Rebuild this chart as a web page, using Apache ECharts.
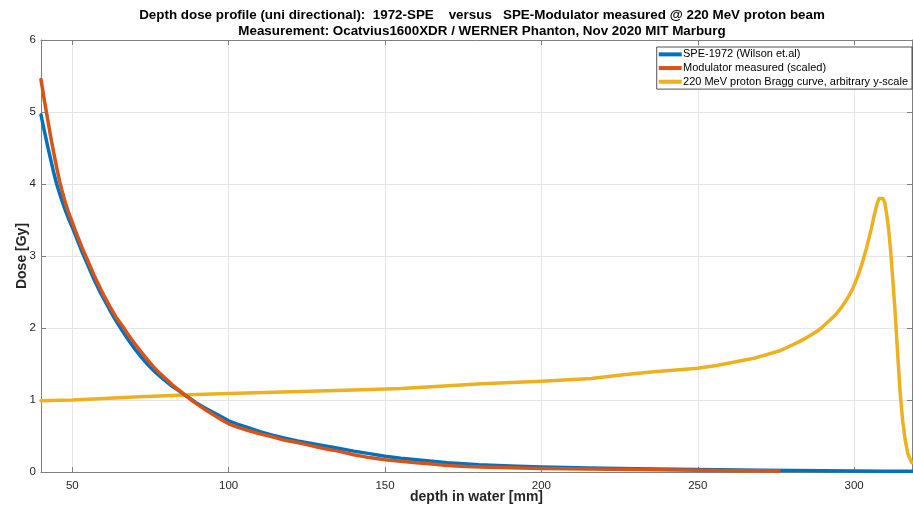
<!DOCTYPE html>
<html>
<head>
<meta charset="utf-8">
<script src="https://cdn.jsdelivr.net/npm/echarts@6/dist/echarts.min.js"></script>
<style>html,body{margin:0;padding:0;background:#fff}#c{width:913px;height:509px}</style>
</head>
<body>
<div id="c"></div>
<script>
const titleLines = ["Depth dose profile (uni directional):  1972-SPE    versus   SPE-Modulator measured @ 220 MeV proton beam",
  "Measurement: Ocatvius1600XDR / WERNER Phanton, Nov 2020 MIT Marburg"];
const seriesNames = ["SPE-1972 (Wilson et.al)", "Modulator measured (scaled)", "220 MeV proton Bragg curve, arbitrary y-scale"];

const speDepth = [40,41,42,43,44,45,46,47,48,49,50,51,52,53,54,55,56,57,58,59,60,62,64,66,68,70,72,74,76,78,80,82,84,86,88,90,92,95,98,100,103,106,110,114,118,122,126,130,135,140,145,150,155,160,165,170,175,180,190,200,215,230,250,270,290,310,318.5];
const speDose  = [4.96,4.75,4.55,4.36,4.17,4.00,3.86,3.73,3.61,3.50,3.40,3.29,3.18,3.07,2.97,2.87,2.77,2.67,2.58,2.49,2.41,2.25,2.10,1.96,1.83,1.71,1.60,1.50,1.41,1.33,1.26,1.19,1.13,1.07,1.01,0.95,0.90,0.83,0.76,0.71,0.66,0.62,0.56,0.51,0.47,0.43,0.40,0.37,0.33,0.29,0.255,0.22,0.19,0.17,0.15,0.13,0.115,0.10,0.085,0.07,0.055,0.045,0.035,0.025,0.018,0.012,0.010];

const modDepth = [40,41,42,43,44,45,46,47,48,49,50,51,52,53,54,55,56,57,58,59,60,62,64,66,68,70,72,74,76,78,80,82,84,86,88,90,92,95,98,100,103,106,110,114,118,122,126,130,135,140,145,150,155,160,165,170,176,183,190,200,215,229,250,265,276];
const modDose  = [5.45,5.18,4.93,4.68,4.45,4.23,4.03,3.86,3.71,3.58,3.47,3.35,3.24,3.13,3.03,2.93,2.83,2.73,2.64,2.55,2.46,2.30,2.15,2.03,1.90,1.78,1.67,1.56,1.46,1.37,1.29,1.21,1.14,1.07,1.00,0.94,0.88,0.80,0.72,0.67,0.62,0.58,0.53,0.49,0.44,0.41,0.37,0.33,0.29,0.24,0.20,0.17,0.15,0.13,0.11,0.09,0.075,0.065,0.058,0.05,0.04,0.033,0.023,0.018,0.015];

const braggDepth = [40,50,60,71.6,80,90,100,120,140,155,165,181,200,216,224,235,250,256,261,265,268,272,276,279,282,285,288,290,292,294,296,298,299.5,301,302.5,304,305.5,306.5,307.3,308,308.6,309.2,309.8,310.4,311,311.7,312.4,313.1,313.9,314.7,315.5,316.3,317.2,318.4];
const braggDose  = [0.99,1.00,1.02,1.045,1.06,1.075,1.09,1.115,1.14,1.16,1.185,1.225,1.26,1.30,1.34,1.39,1.44,1.48,1.52,1.555,1.58,1.63,1.68,1.74,1.80,1.87,1.95,2.02,2.10,2.18,2.29,2.42,2.54,2.70,2.89,3.12,3.38,3.58,3.72,3.80,3.82,3.80,3.74,3.58,3.38,3.05,2.65,2.22,1.65,1.11,0.72,0.45,0.25,0.13];

const xTickValues = [50,100,150,200,250,300];

const zip = (a,b) => a.map((v,i) => [v, b[i]]);
const FONT = "Liberation Sans";
const AX = '#7f7f7f', TXT = '#262626';
const chart = echarts.init(document.getElementById('c'), null, {renderer:'canvas'});
const xBase = {
  type:'value', min:40, max:318.5,
  axisLine:{show:true, onZero:false, lineStyle:{color:AX, width:1}},
  axisTick:{show:true, inside:true, length:5, lineStyle:{color:AX}},
};
const yBase = {
  type:'value', min:0, max:6, interval:1,
  axisLine:{show:true, onZero:false, lineStyle:{color:AX, width:1}},
  axisTick:{show:true, inside:true, length:5, lineStyle:{color:AX}},
};
chart.setOption({
  animation:false,
  backgroundColor:'#fff',
  title:{
    text: titleLines.join('\n'),
    left: 477, textAlign:'center', top: 2,
    textStyle:{fontFamily:FONT, fontSize:13.4, fontWeight:'bold', color:'#000', lineHeight:16.5}
  },
  legend:{
    orient:'vertical', right:1, top:47,
    data: seriesNames,
    icon:'rect', itemWidth:23, itemHeight:4, itemGap:0,
    padding:[0.5,4,0.5,2],
    borderColor:'#262626', borderWidth:0.8, backgroundColor:'#fff',
    textStyle:{fontFamily:FONT, fontSize:11, color:'#000', lineHeight:13.7, padding:[0,0,0,-3.7]}
  },
  grid:{left:41, right:1, top:40, bottom:37, containLabel:false, outerBoundsMode:'none'},
  xAxis:[
    Object.assign({}, xBase, {
      position:'bottom',
      name:'depth in water [mm]', nameLocation:'middle', nameGap:18, nameMoveOverlap:false,
      nameTextStyle:{fontFamily:FONT, fontSize:14, fontWeight:'bold', color:TXT},
      axisLabel:{show:true, margin:8, color:TXT, fontFamily:FONT, fontSize:11.5, showMinLabel:false, showMaxLabel:false,
        formatter: v => xTickValues.includes(v) ? String(v) : ''},
      splitLine:{show:true, lineStyle:{color:'#e6e6e6', width:1}}
    }),
    Object.assign({}, xBase, {position:'top', axisLabel:{show:false}, splitLine:{show:false}})
  ],
  yAxis:[
    Object.assign({}, yBase, {
      position:'left',
      name:'Dose [Gy]', nameLocation:'middle', nameGap:12, nameRotate:90, nameMoveOverlap:false,
      nameTextStyle:{fontFamily:FONT, fontSize:14, fontWeight:'bold', color:TXT},
      axisLabel:{show:true, margin:5, color:TXT, fontFamily:FONT, fontSize:11.5},
      splitLine:{show:true, lineStyle:{color:'#e6e6e6', width:1}}
    }),
    Object.assign({}, yBase, {position:'right', axisLabel:{show:false}, splitLine:{show:false}})
  ],
  series:[
    {name:seriesNames[2], type:'line', data:zip(braggDepth, braggDose), showSymbol:false, smooth:false,
      lineStyle:{color:'#EDB120', width:3.5, join:'round', cap:'round'}, itemStyle:{color:'#EDB120'}, z:1, clip:true},
    {name:seriesNames[0], type:'line', data:zip(speDepth, speDose), showSymbol:false, smooth:false,
      lineStyle:{color:'#0072BD', width:3.5, join:'round', cap:'round'}, itemStyle:{color:'#0072BD'}, z:2, clip:true},
    {name:seriesNames[1], type:'line', data:zip(modDepth, modDose), showSymbol:false, smooth:false,
      lineStyle:{color:'#D95319', width:3.5, join:'round', cap:'round'}, itemStyle:{color:'#D95319'}, z:3, clip:true}
  ]
});
</script>
</body>
</html>
